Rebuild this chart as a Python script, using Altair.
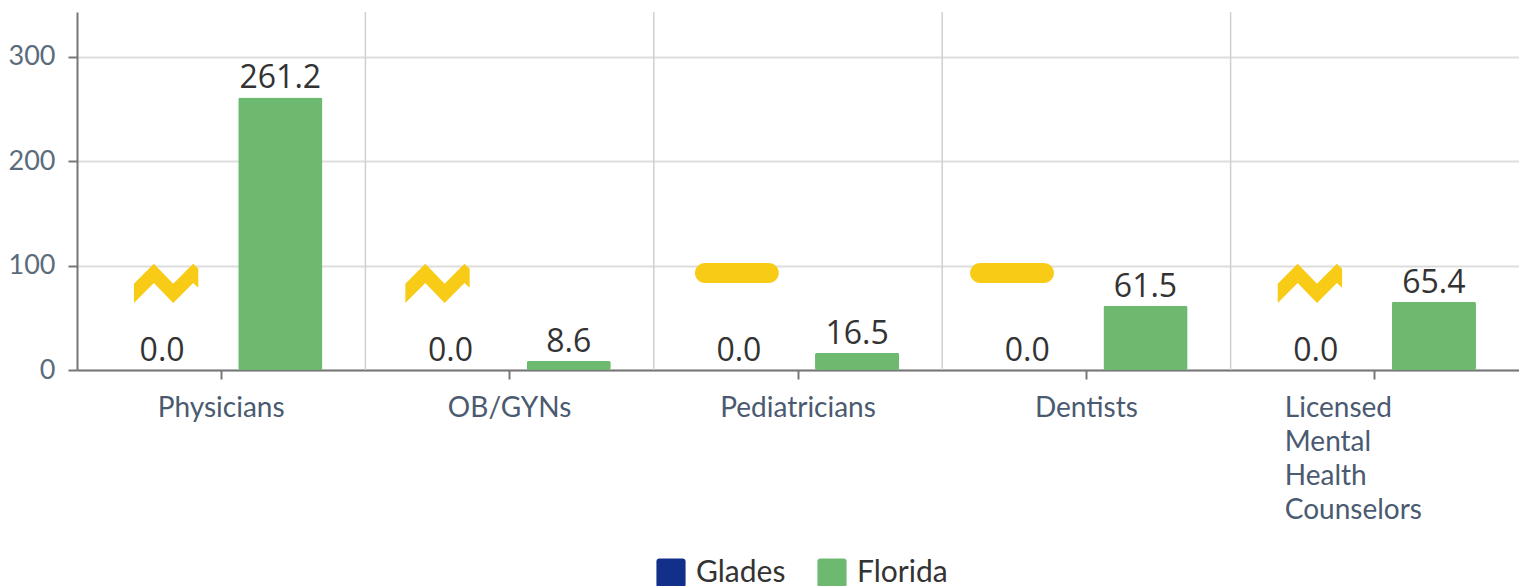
import altair as alt
import pandas as pd

categories = ["Physicians", "OB/GYNs", "Pediatricians", "Dentists", "Licensed Mental Health Counselors"]
glades = [0.0, 0.0, 0.0, 0.0, 0.0]
florida = [261.2, 8.6, 16.5, 61.5, 65.4]
series = ["Glades", "Florida"]
colors = ["#12308A", "#6CB96F"]
marker_pos = [0.309, 1.25, 2.288, 3.242, 4.275]
marker_val = [83, 83, 93, 93, 83]
marker_kind = ["zig", "zig", "dash", "dash", "zig"]

ZIG = "M-1,0.01L-0.38,-0.61L0.22,0.01L0.84,-0.61L1,-0.456L1,0.135L0.84,-0.01L0.22,0.61L-0.38,-0.01L-1,0.61Z"
DASH = "M-0.76,-0.238L0.76,-0.238A0.238,0.238 0 0 1 0.76,0.238L-0.76,0.238A0.238,0.238 0 0 1 -0.76,-0.238Z"
YELLOW = "#F8CB17"

bars_df = pd.DataFrame(
    [{"cat": c, "series": "Glades", "value": v} for c, v in zip(categories, glades)]
    + [{"cat": c, "series": "Florida", "value": v} for c, v in zip(categories, florida)]
)
markers_df = pd.DataFrame({"pos": marker_pos, "value": marker_val, "kind": marker_kind})
rules_df = pd.DataFrame({"cat": categories[1:]})

xscale = alt.Scale(domain=categories, paddingInner=0, paddingOuter=0)
yscale = alt.Scale(domain=[0, 343], nice=False)
offset_scale = alt.Scale(domain=series, paddingInner=0.288, paddingOuter=0.364)

x_axis = alt.Axis(
    title=None, labelAngle=0, labelExpr="split(datum.label, ' ')", labelLimit=400,
    labelFont="Lato", labelFontSize=28, labelColor="#4A5A70", labelLineHeight=34,
    labelPadding=15, tickSize=9, tickWidth=2, tickColor="#777777",
    domainColor="#777777", domainWidth=2, grid=False,
    labelAlign=alt.expr("datum.value == 'Licensed Mental Health Counselors' ? 'left' : 'center'"),
    labelOffset=alt.expr("datum.value == 'Licensed Mental Health Counselors' ? -90 : 0"),
)
y_axis = alt.Axis(
    title=None, values=[0, 100, 200, 300], labelFont="Lato", labelFontSize=27,
    labelColor="#5B6B7B", labelPadding=13, tickSize=9, tickWidth=2, tickColor="#777777",
    domainColor="#777777", domainWidth=2, gridColor="#DDDDDD", gridWidth=2,
)

x = alt.X("cat:N", scale=xscale, sort=categories, axis=x_axis)
y = alt.Y("value:Q", scale=yscale, axis=y_axis)
xo = alt.XOffset("series:N", scale=offset_scale, sort=series)

rules = alt.Chart(rules_df).mark_rule(color="#D0D0D0", strokeWidth=1.5).encode(
    x=alt.X("cat:N", scale=xscale, sort=categories, axis=x_axis, bandPosition=0)
)
bars = alt.Chart(bars_df).mark_bar(cornerRadius=2).encode(
    x=x, y=y, xOffset=xo,
    color=alt.Color(
        "series:N",
        scale=alt.Scale(domain=series, range=colors),
        sort=series,
        legend=alt.Legend(
            title=None, orient="none", direction="horizontal", legendX=579, legendY=546,
            labelFont="Lato", labelFontSize=30, labelColor="#333333", symbolSize=850,
            symbolType="M-1,-0.8A0.2,0.2 0 0 1 -0.8,-1L0.8,-1A0.2,0.2 0 0 1 1,-0.8L1,0.8A0.2,0.2 0 0 1 0.8,1L-0.8,1A0.2,0.2 0 0 1 -1,0.8Z",
            symbolStrokeWidth=0, symbolOpacity=1, columnPadding=31, labelOffset=10,
        ),
    ),
)
labels = alt.Chart(bars_df).mark_text(
    baseline="bottom", dy=-2, font="Open Sans", fontSize=32, color="#333333"
).encode(x=x, y=y, xOffset=xo, text=alt.Text("value:Q", format=".1f"))


def marker_layer(kind, path, size):
    return alt.Chart(markers_df[markers_df["kind"] == kind]).mark_point(
        shape=path, size=size, filled=True, color=YELLOW, opacity=1, strokeWidth=0
    ).encode(
        x=alt.X("pos:Q", scale=alt.Scale(domain=[0, 5], nice=False, zero=False), axis=None),
        y=alt.Y("value:Q", scale=yscale, axis=y_axis),
    )


main = alt.layer(rules, bars, labels)
marks = alt.layer(marker_layer("zig", ZIG, 4140), marker_layer("dash", DASH, 7056))

chart = (
    alt.layer(main, marks)
    .resolve_scale(x="independent")
    .properties(width=1442, height=358, padding={"left": 0, "top": 3, "right": 0, "bottom": 0})
    .configure_view(stroke=None)
)

chart.save("out.html", embed_options={"renderer": "svg", "actions": False})
